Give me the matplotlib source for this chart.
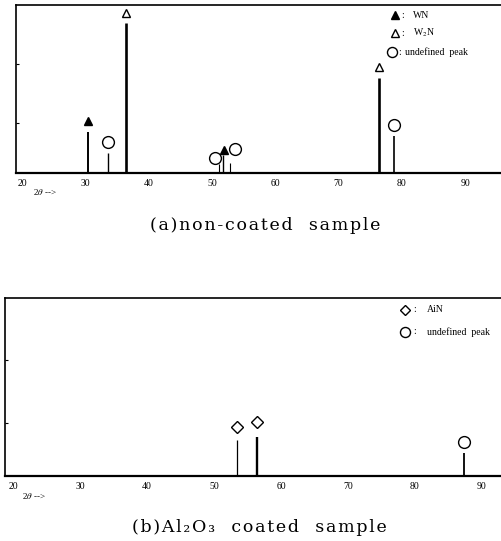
import matplotlib
matplotlib.use("Agg")
import matplotlib.pyplot as plt

plt.rcParams['font.family'] = ['Liberation Serif', 'DejaVu Serif']
plt.rcParams['mathtext.fontset'] = 'stix'

# (a) non-coated sample : 2theta position, relative intensity, phase
a_pos = [30.4, 33.5, 36.4, 51.1, 51.75, 52.85, 76.4, 78.8]
a_int = [0.245, 0.12, 0.89, 0.055, 0.11, 0.06, 0.565, 0.22]
a_phase = ["WN", "undef", "W2N", "undef", "WN", "undef", "W2N", "undef"]

# (b) Al2O3 coated sample
b_pos = [53.4, 56.4, 87.4]
b_int = [0.20, 0.22, 0.13]
b_phase = ["AlN", "AlN", "undef"]

xticks = [20, 30, 40, 50, 60, 70, 80, 90]

# line widths and marker nudges (x in deg, y in axes fraction)
a_width = [1.4, 1.0, 1.9, 0.8, 1.0, 0.8, 1.9, 1.2]
a_nudge = [(0, 0), (0, 0), (0, 0), (-0.63, -0.03), (0.15, -0.04), (0.8, 0.02), (0, 0), (0, 0)]
b_width = [0.9, 1.7, 1.3]
b_nudge = [(0, 0), (0, 0.01), (0, -0.015)]

markers = {"WN": dict(marker="^", ms=6, mfc="black", mec="black"),
           "W2N": dict(marker="^", ms=6, mfc="white", mec="black", mew=1.0),
           "undef": dict(marker="o", ms=8.5, mfc="white", mec="black", mew=1.0),
           "AlN": dict(marker="D", ms=6.5, mfc="white", mec="black", mew=1.0)}

fig = plt.figure(figsize=(5.02, 5.41), dpi=100)


def spaced(s):
    # wide letter spacing of the original caption
    return "\u200a".join(list(s))


def draw_panel(ax, pos, inten, phase, widths, xlim, nudge, gap):
    ax.set_xlim(*xlim)
    ax.set_ylim(0, 1)
    for i in range(len(pos)):
        ax.vlines(pos[i], 0, inten[i], color="black", lw=widths[i])
        ax.plot(pos[i] + nudge[i][0], inten[i] + gap + nudge[i][1], ls="none",
                clip_on=False, **markers[phase[i]])
    ax.spines["right"].set_visible(False)
    for s in ["top", "left"]:
        ax.spines[s].set_linewidth(1.2)
    ax.spines["bottom"].set_linewidth(1.6)
    ax.set_xticks(xticks)
    ax.set_xticklabels([str(t) for t in xticks], fontsize=7)
    ax.tick_params(axis="x", length=0, pad=4)
    ax.set_yticks([0.3, 0.65])
    ax.set_yticklabels([])
    ax.tick_params(axis="y", direction="in", length=2, width=0.8)
    ax.text(0.035, -0.115, "2$\\theta$ -->", transform=ax.transAxes, fontsize=6.5,
            ha="left", va="center")


def legend(ax, items, xm, xc, xt):
    for key, name, yy in items:
        st = dict(markers[key])
        st["ms"] = st["ms"] * 0.85
        ax.plot(xm, yy, transform=ax.transAxes, ls="none", clip_on=False, **st)
        ax.text(xc, yy, ":", transform=ax.transAxes, fontsize=7, va="center", ha="left")
        ax.text(xt, yy, name, transform=ax.transAxes, fontsize=7, va="center", ha="left")


cap_font = dict(fontsize=12.5, family="DejaVu Serif", ha="center", va="center")

# (a)
ax1 = fig.add_axes([16 / 502, 368 / 541, 486 / 502, 168 / 541])
draw_panel(ax1, a_pos, a_int, a_phase, a_width, (19.05, 95.8), a_nudge, 0.065)
legend(ax1, [("WN", "WN", 0.94), ("W2N", "W$_2$N", 0.833)], 0.78, 0.792, 0.817)
legend(ax1, [("undef", "undefined  peak", 0.72)], 0.774, 0.787, 0.8)
fig.text(265 / 502, (541 - 225) / 541, spaced("(a)non-coated  sample"), **cap_font)

# (b)
ax2 = fig.add_axes([5 / 502, 65 / 541, 497 / 502, 178 / 541])
draw_panel(ax2, b_pos, b_int, b_phase, b_width, (18.8, 93.0), b_nudge, 0.075)
legend(ax2, [("AlN", "AiN", 0.933), ("undef", "undefined  peak", 0.809)], 0.805, 0.822, 0.849)
fig.text(259 / 502, (541 - 527) / 541, spaced("(b)Al\u2082O\u2083  coated  sample"), **cap_font)

fig.savefig("out.png", dpi=100)
